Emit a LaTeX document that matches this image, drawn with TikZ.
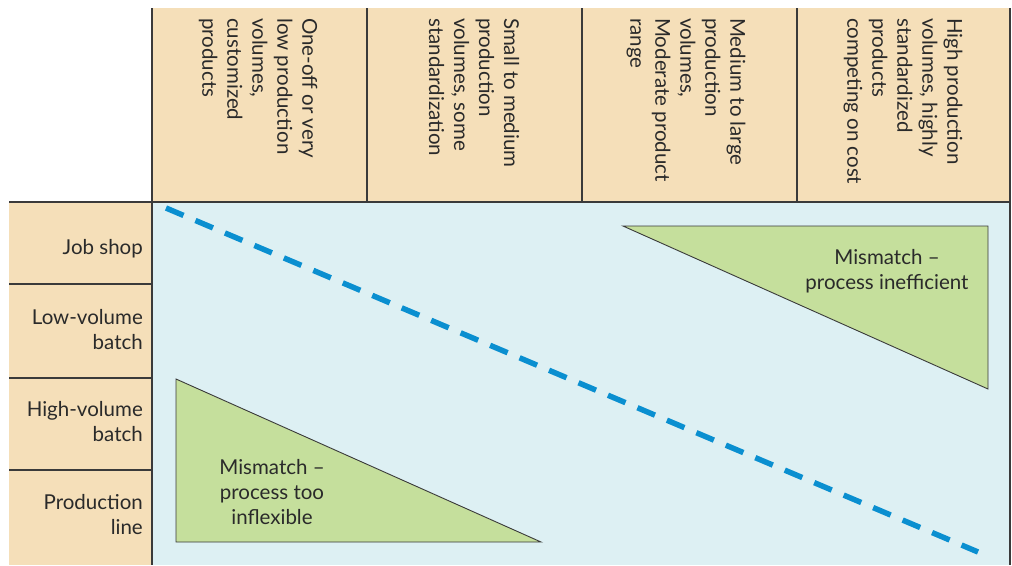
\documentclass[tikz,border=0pt]{standalone}
\usepackage{fontspec}
\setmainfont{Lato}
\definecolor{headbeige}{HTML}{F5DFB9}
\definecolor{fieldblue}{HTML}{DDF0F3}
\definecolor{wedgegreen}{HTML}{C5DF9C}
\definecolor{diagblue}{HTML}{0A8FD0}
\definecolor{gridline}{HTML}{3A3A3A}
\definecolor{txt}{HTML}{2A2A2A}
\begin{document}
\begin{tikzpicture}[x=1pt,y=-1pt,
  grid/.style={draw=gridline, line width=1.4pt},
  lbl/.style={font=\fontsize{20.5}{25}\selectfont, text=txt, inner sep=0pt},
  colhead/.style={lbl, rotate=-90, anchor=west, align=left},
  rowhead/.style={lbl, anchor=east, align=right},
  wedge/.style={fill=wedgegreen, draw=gridline, line width=0.9pt, line join=miter},
  wedgetext/.style={lbl, align=center},
  fitline/.style={draw=diagblue, line width=5.5pt, dash pattern=on 19pt off 13pt}
  ]
  \useasboundingbox (0,0) rectangle (1012,565);

  % background panels
  \fill[headbeige] (152,8) rectangle (1010,202);
  \fill[headbeige] (9,202) rectangle (152,565);
  \fill[fieldblue] (152,202) rectangle (1010,565);

  % grid lines
  \draw[grid] (152,8) -- (152,565);
  \draw[grid] (1010,8) -- (1010,565);
  \draw[grid] (367,8) -- (367,202);
  \draw[grid] (582,8) -- (582,202);
  \draw[grid] (797,8) -- (797,202);
  \draw[grid] (9,202) -- (1010,202);
  \draw[grid] (9,284) -- (152,284);
  \draw[grid] (9,378) -- (152,378);
  \draw[grid] (9,470) -- (152,470);

  % column headings (product volume / variety)
  \node[colhead] (c1) at (258,18) {One-off or very\\low production\\volumes,\\customized\\products};
  \node[colhead] (c2) at (474,18) {Small to medium\\production\\volumes, some\\standardization};
  \node[colhead] (c3) at (686,18) {Medium to large\\production\\volumes,\\Moderate product\\range};
  \node[colhead] (c4) at (903,18) {High production\\volumes, highly\\standardized\\products\\competing on cost};

  % row headings (process types)
  \node[rowhead] (r1) at (143,249) {Job shop};
  \node[rowhead] (r2) at (143,330) {Low-volume\\batch};
  \node[rowhead] (r3) at (143,422) {High-volume\\batch};
  \node[rowhead] (r4) at (143,515) {Production\\line};

  % mismatch regions
  \draw[wedge] (623,226) -- (988,226) -- (988,389) -- cycle;
  \draw[wedge] (176,379) -- (176,542) -- (541,542) -- cycle;
  \node[wedgetext] (m1) at (887,271) {Mismatch --\\process inefficient};
  \node[wedgetext] (m2) at (272,492) {Mismatch --\\process too\\inflexible};

  % diagonal of natural fit
  \coordinate (d0) at (166,208);
  \coordinate (d1) at (978,552);
  \draw[fitline] (d0) -- (d1);
\end{tikzpicture}
\end{document}
